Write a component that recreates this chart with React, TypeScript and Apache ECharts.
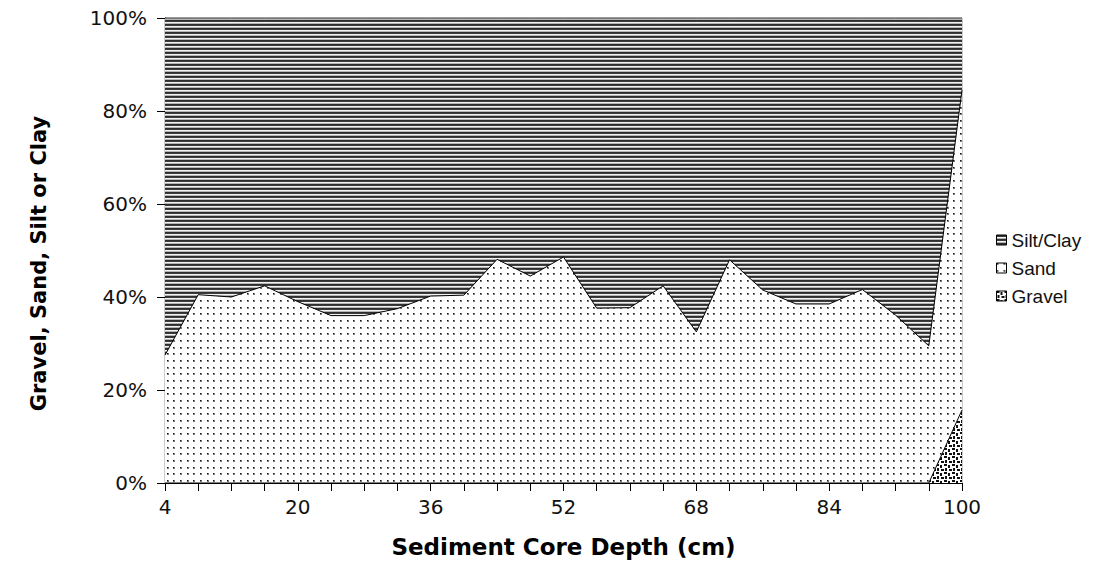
import React, { useEffect, useRef } from 'react';
import * as echarts from 'echarts';

const depths = ['4', '8', '12', '16', '20', '24', '28', '32', '36', '40', '44', '48', '52', '56', '60', '64', '68', '72', '76', '80', '84', '88', '92', '96', '100'];
const gravel = [0, 0, 0, 0, 0, 0, 0, 0, 0, 0, 0, 0, 0, 0, 0, 0, 0, 0, 0, 0, 0, 0, 0, 0, 15.7];
const sand = [27.5, 40.5, 40, 42.4, 39, 36, 36, 37.5, 40.2, 40.4, 48.1, 44.5, 48.6, 37.6, 37.7, 42.4, 32.5, 48, 41.5, 38.5, 38.5, 41.6, 36.1, 29.5, 68.8];
const siltClay = [72.5, 59.5, 60, 57.6, 61, 64, 64, 62.5, 59.8, 59.6, 51.9, 55.5, 51.4, 62.4, 62.3, 57.6, 67.5, 52, 58.5, 61.5, 61.5, 58.4, 63.9, 70.5, 15.5];
const legendOrder = ['Silt/Clay', 'Sand', 'Gravel'];

function makePattern(w: number, h: number, draw: (ctx: CanvasRenderingContext2D) => void) {
  const c = document.createElement('canvas');
  c.width = w;
  c.height = h;
  const ctx = c.getContext('2d') as CanvasRenderingContext2D;
  draw(ctx);
  return { image: c, repeat: 'repeat', imageWidth: w, imageHeight: h } as any;
}

export default function App() {
  const ref = useRef<HTMLDivElement>(null);
  useEffect(() => {
    if (!ref.current) return;
    const chart = echarts.init(ref.current, null, { renderer: 'svg' });

    const stripe = makePattern(4, 4, (ctx) => {
      const rows = ['#2e2e2e', '#3c3c3c', '#f2f2f2', '#b4b4b4'];
      rows.forEach((c, i) => { ctx.fillStyle = c; ctx.fillRect(0, i, 4, 1); });
    });
    const dots = makePattern(20, 20, (ctx) => {
      ctx.fillStyle = '#ffffff';
      ctx.fillRect(0, 0, 20, 20);
      const p = [0, 7, 13];
      p.forEach((x) => p.forEach((y) => {
        ctx.fillStyle = '#777';
        ctx.fillRect(x, y, 2, 2);
        ctx.fillStyle = '#111';
        ctx.fillRect(x, y, 1, 1);
      }));
    });
    const gravelPat = makePattern(8, 8, (ctx) => {
      ctx.fillStyle = '#ffffff';
      ctx.fillRect(0, 0, 8, 8);
      ctx.fillStyle = '#111';
      ctx.fillRect(0, 0, 3, 2);
      ctx.fillRect(4, 1, 2, 3);
      ctx.fillRect(1, 4, 2, 3);
      ctx.fillRect(5, 5, 3, 2);
    });
    const patterns: Record<string, any> = { 'Silt/Clay': stripe, Sand: dots, Gravel: gravelPat };

    const labelFont = "'DejaVu Sans', sans-serif";
    const legendFont = "'Liberation Sans', Arial, sans-serif";
    const titleFont = "'DejaVu Sans', sans-serif";

    const mkSeries = (name: string, data: number[]) => ({
      name,
      type: 'line',
      stack: 'total',
      data,
      symbol: 'none',
      showSymbol: false,
      lineStyle: { color: '#000', width: 1 },
      itemStyle: { color: '#000' },
      areaStyle: { color: patterns[name], opacity: 1 },
      emphasis: { disabled: true },
    });

    chart.setOption({
      animation: false,
      backgroundColor: '#fff',
      grid: { left: 165, right: 156, top: 18, bottom: 101, show: true, borderColor: '#999', borderWidth: 1, backgroundColor: 'transparent' },
      legend: {
        orient: 'vertical',
        left: 996,
        top: 230,
        padding: 0,
        itemWidth: 10,
        itemHeight: 10,
        itemGap: 8,
        icon: 'rect',
        selectedMode: false,
        itemStyle: { borderColor: '#000', borderWidth: 1 },
        textStyle: { fontFamily: legendFont, fontSize: 19, color: '#111', lineHeight: 20 },
        data: legendOrder.map((n) => ({ name: n, icon: 'rect', itemStyle: { color: patterns[n], borderColor: '#000', borderWidth: 1 } })),
      },
      xAxis: {
        type: 'category',
        data: depths,
        boundaryGap: false,
        name: 'Sediment Core Depth (cm)',
        nameLocation: 'middle',
        nameGap: 52,
        nameTextStyle: { fontFamily: titleFont, fontWeight: 'bold', fontSize: 23, color: '#000' },
        axisLine: { lineStyle: { color: '#000', width: 1 } },
        axisTick: { show: true, interval: 0, length: 8, lineStyle: { color: '#000' } },
        axisLabel: { interval: 3, margin: 14, fontFamily: labelFont, fontSize: 20, color: '#111' },
        splitLine: { show: false },
      },
      yAxis: {
        type: 'value',
        min: 0,
        max: 100,
        interval: 20,
        name: 'Gravel, Sand, Silt or Clay',
        nameLocation: 'middle',
        nameRotate: 90,
        nameGap: 116,
        nameTextStyle: { fontFamily: titleFont, fontWeight: 'bold', fontSize: 21, color: '#000', padding: [0, 26, 0, 0] },
        axisLine: { show: true, lineStyle: { color: '#000', width: 1 } },
        axisTick: { show: true, length: 8, lineStyle: { color: '#000' } },
        axisLabel: { formatter: '{value}%', margin: 18, fontFamily: labelFont, fontSize: 20, color: '#111' },
        splitLine: { show: false },
      },
      series: [mkSeries('Gravel', gravel), mkSeries('Sand', sand), mkSeries('Silt/Clay', siltClay)],
    });
    return () => chart.dispose();
  }, []);
  return <div ref={ref} style={{ position: 'absolute', left: 0, top: 0, width: 1118, height: 584, background: '#fff' }} />;
}
